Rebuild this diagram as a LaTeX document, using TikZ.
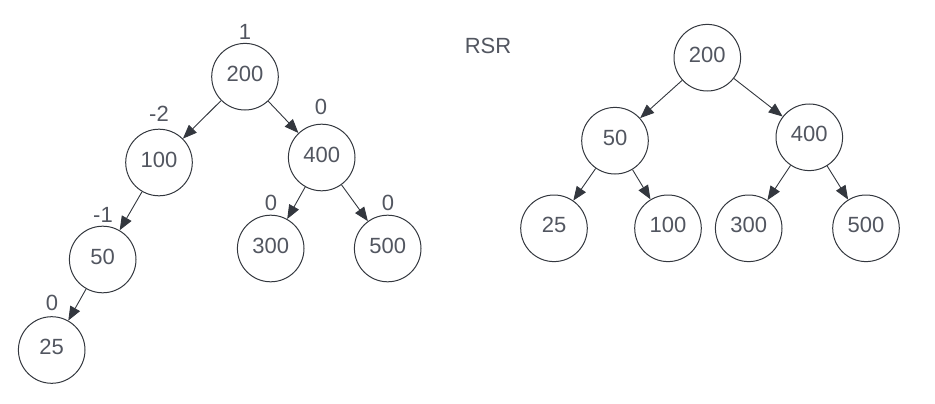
\documentclass[tikz,border=0pt]{standalone}
\usepackage{fontspec}
\setmainfont{Liberation Sans}
\usetikzlibrary{arrows.meta}
\definecolor{txt}{RGB}{82,86,96}
\definecolor{edge}{RGB}{51,55,62}
\begin{document}
\begin{tikzpicture}[x=1pt,y=-1pt,
  treenode/.style={circle,draw=edge,line width=1pt,minimum size=66.6pt,inner sep=0pt,
    text=txt,text depth=6pt,font=\fontsize{22}{26}\selectfont},
  lbl/.style={text=txt,font=\fontsize{22}{26}\selectfont,inner sep=0pt},
  conn/.style={draw=edge,line width=0.9pt,-{Triangle[length=14pt,width=11pt]}}]
\useasboundingbox (0,0) rectangle (935,404);
% left tree
\node[treenode] (a200) at (245,76.7) {200};
\node[treenode] (a100) at (159,162.5) {100};
\node[treenode] (a400) at (321.7,157.5) {400};
\node[treenode] (a50) at (102.7,259.5) {50};
\node[treenode] (a300) at (270.7,248.5) {300};
\node[treenode] (a500) at (387.7,248.5) {500};
\node[treenode] (a25) at (51.7,350) {25};
\node[lbl] (l200) at (245,32) {1};
\node[lbl] (l100) at (159,114) {-2};
\node[lbl] (l400) at (321,107) {0};
\node[lbl] (l50) at (103,215) {-1};
\node[lbl] (l300) at (271,203) {0};
\node[lbl] (l500) at (388,203) {0};
\node[lbl] (l25) at (52,303) {0};
\draw[conn] (a200) -- (a100);
\draw[conn] (a200) -- (a400);
\draw[conn] (a100) -- (a50);
\draw[conn] (a50) -- (a25);
\draw[conn] (a400) -- (a300);
\draw[conn] (a400) -- (a500);
% title
\node[lbl] (rsr) at (488,46) {RSR};
% right tree
\node[treenode] (b200) at (707.3,57.7) {200};
\node[treenode] (b50) at (615,140.7) {50};
\node[treenode] (b400) at (809.3,137.3) {400};
\node[treenode] (b25) at (554,228.3) {25};
\node[treenode] (b100) at (668,228.3) {100};
\node[treenode] (b300) at (748.7,228.3) {300};
\node[treenode] (b500) at (866,228.3) {500};
\draw[conn] (b200) -- (b50);
\draw[conn] (b200) -- (b400);
\draw[conn] (b50) -- (b25);
\draw[conn] (b50) -- (b100);
\draw[conn] (b400) -- (b300);
\draw[conn] (b400) -- (b500);
\end{tikzpicture}
\end{document}
